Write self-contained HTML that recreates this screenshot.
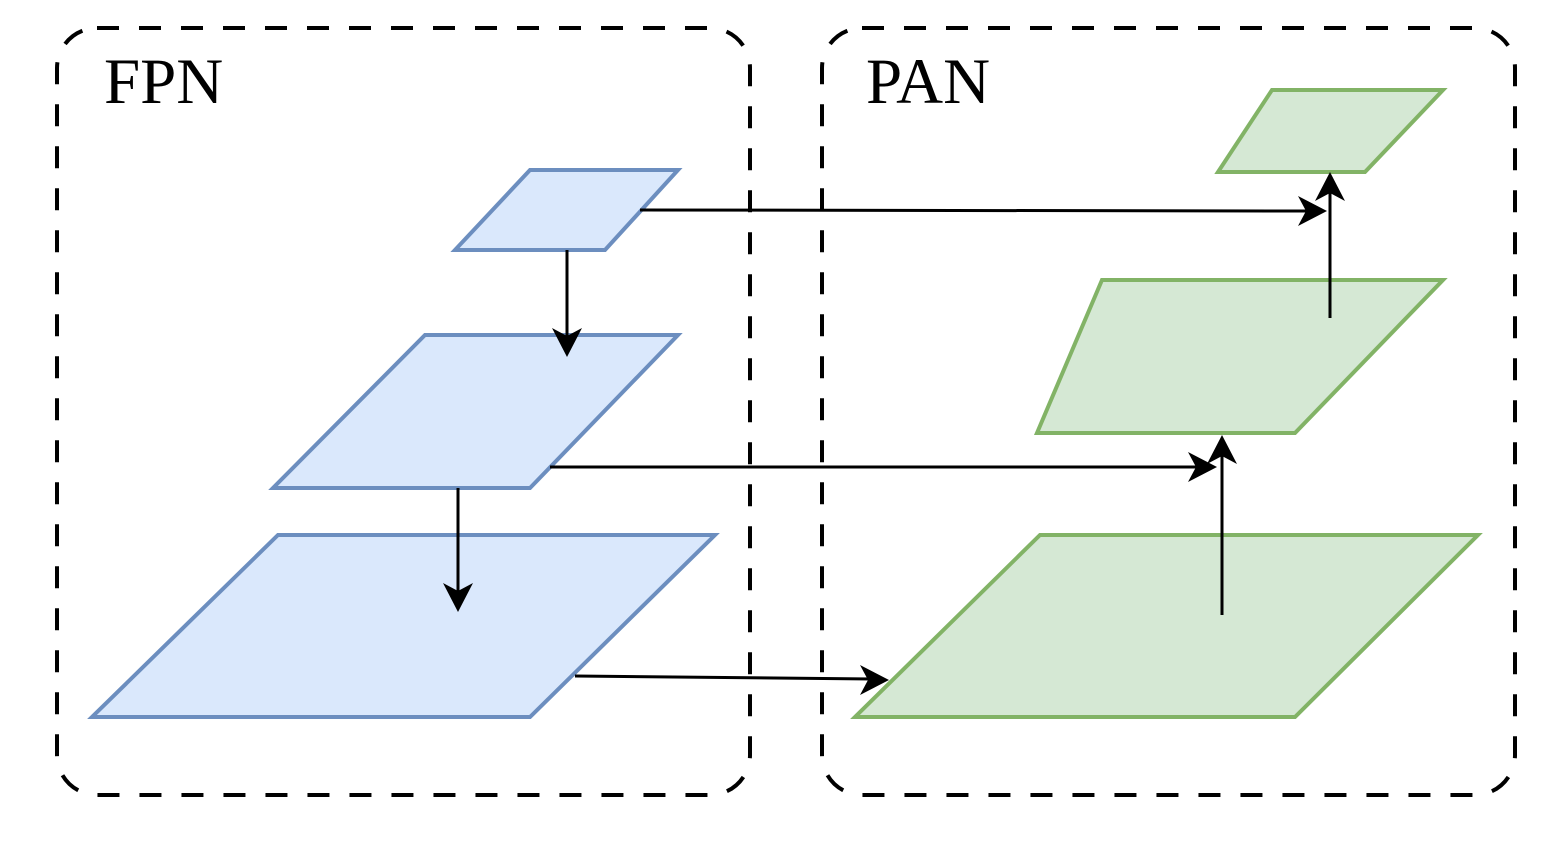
<!DOCTYPE html>
<html><head><meta charset="utf-8"><style>html,body{margin:0;padding:0;background:#fff}</style></head>
<body>
<svg width="1543" height="841" viewBox="0 0 1543 841" xmlns="http://www.w3.org/2000/svg">
<defs>
<marker id="a" markerWidth="10" markerHeight="10" refX="9" refY="5" orient="auto" markerUnits="userSpaceOnUse" viewBox="0 0 10 10">
</marker>
</defs>
<g fill="none" stroke="#000" stroke-width="4" stroke-dasharray="22 20">
<rect x="57" y="28" width="693" height="767" rx="40"/>
<rect x="822" y="28" width="693" height="767" rx="40"/>
</g>
<text x="104" y="103" font-family="Liberation Serif, serif" font-size="65" fill="#000">FPN</text>
<text x="866" y="103" font-family="Liberation Serif, serif" font-size="65" fill="#000">PAN</text>
<g fill="#dae8fc" stroke="#6c8ebf" stroke-width="4">
<polygon points="530,170 678,170 605,250 455,250"/>
<polygon points="425,335 678,335 530,488 273,488"/>
<polygon points="278,535 715,535 530,717 92,717"/>
</g>
<g fill="#d5e8d4" stroke="#82b366" stroke-width="4">
<polygon points="1272,90 1443,90 1365,172 1218,172"/>
<polygon points="1102,280 1443,280 1295,433 1037,433"/>
<polygon points="1040,535 1478,535 1295,717 855,717"/>
</g>
<g stroke="#000" stroke-width="3" fill="none">
<line x1="567" y1="250" x2="567" y2="340"/>
<line x1="458" y1="488" x2="458" y2="595"/>
<line x1="640" y1="210" x2="1310" y2="211"/>
<line x1="550" y1="467" x2="1200" y2="467"/>
<line x1="575" y1="676" x2="872" y2="679"/>
<line x1="1330" y1="318" x2="1330" y2="188"/>
<line x1="1222" y1="615" x2="1222" y2="452"/>
</g>
<g fill="#000">
<polygon points="567,357 552,328 567,336 582,328"/>
<polygon points="458,612 443,583 458,591 473,583"/>
<polygon points="1327,211 1298,196 1306,211 1298,226"/>
<polygon points="1217,467 1188,452 1196,467 1188,482"/>
<polygon points="889,680 860,665 868,680 860,695"/>
<polygon points="1330,172 1315,201 1330,193 1345,201"/>
<polygon points="1222,435 1207,464 1222,456 1237,464"/>
</g>
</svg>
</body></html>
